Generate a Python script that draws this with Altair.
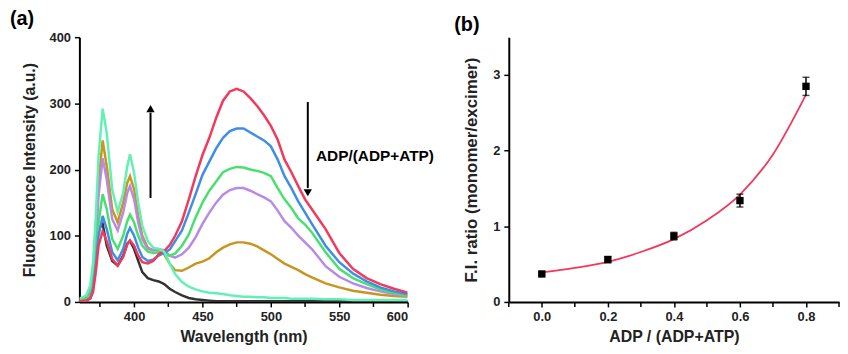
import altair as alt
import pandas as pd

# ---------------- Panel (a): emission spectra ----------------
wavelength = [360, 365, 368, 370, 372, 374, 377, 380, 384, 388, 392, 395, 397, 400, 403, 406, 410, 414, 418,
              422, 426, 430, 435, 440, 445, 450, 455, 460, 465, 470, 475, 480, 485, 490, 495, 500, 505, 510,
              515, 520, 525, 530, 540, 550, 560, 570, 580, 590, 600]

black = [1, 2, 6, 25, 70, 110, 118, 85, 62, 55, 70, 88, 92, 80, 62, 45, 36, 33, 31,
         27, 20, 15, 10, 6, 4, 3, 2, 1, 1, 1, 1, 1, 1, 1, 1, 1, 1, 1,
         1, 1, 1, 1, 1, 1, 1, 1, 1, 1, 1]
red = [1, 2, 5, 15, 45, 85, 107, 92, 65, 55, 68, 87, 93, 85, 70, 60, 58, 62, 72,
       77, 86, 100, 122, 155, 190, 222, 248, 278, 304, 318, 322, 318, 308, 296, 282, 266, 245, 215,
       196, 175, 155, 140, 110, 74, 50, 36, 27, 20, 14]
blue = [1, 2, 6, 20, 55, 100, 130, 110, 75, 63, 80, 103, 112, 100, 82, 68, 62, 64, 70,
        74, 79, 92, 108, 135, 163, 192, 212, 232, 248, 258, 262, 262, 256, 250, 244, 235, 215, 190,
        172, 152, 135, 118, 85, 60, 43, 31, 22, 16, 12]
green = [2, 4, 10, 28, 68, 120, 163, 140, 95, 80, 100, 122, 132, 120, 100, 85, 76, 74, 75,
         72, 70, 73, 85, 102, 128, 150, 168, 182, 196, 201, 204, 203, 200, 198, 195, 190, 172, 155,
         142, 126, 117, 105, 75, 50, 36, 27, 19, 14, 10]
purple = [2, 4, 12, 35, 90, 160, 217, 185, 125, 108, 135, 165, 175, 155, 120, 95, 80, 78, 80,
          78, 70, 67, 72, 82, 98, 118, 135, 150, 162, 169, 172, 172, 168, 163, 158, 152, 138, 122,
          112, 100, 90, 80, 54, 38, 28, 21, 16, 12, 9]
gold = [4, 6, 15, 40, 100, 180, 244, 205, 140, 120, 150, 180, 190, 170, 130, 100, 82, 78, 78,
        72, 58, 48, 47, 52, 58, 61, 66, 75, 82, 87, 90, 90, 88, 84, 78, 72, 65, 58,
        53, 48, 42, 37, 28, 22, 17, 14, 11, 9, 8]
cyan = [5, 10, 25, 60, 130, 220, 292, 255, 170, 136, 165, 205, 223, 195, 150, 115, 92, 82, 80,
        76, 58, 42, 30, 23, 19, 16, 14, 13, 12, 10, 9, 8, 8, 7, 7, 6, 6, 6,
        5, 5, 5, 5, 4, 4, 3, 3, 3, 3, 3]

series_names = ["black", "gold", "purple", "green", "blue", "red", "cyan"]
series_values = [black, gold, purple, green, blue, red, cyan]
series_colors = ["#333333", "#c8961e", "#b88ae6", "#48e06e", "#3f8ee6", "#f23a5c", "#62f0b6"]

major_ticks_a = [400, 450, 500, 550, 600]
minor_ticks_a = [375, 425, 475, 525, 575]

rows = []
for name, vals in zip(series_names, series_values):
    for w, v in zip(wavelength, vals):
        rows.append({"wl": w, "val": v, "series": name})
df_a = pd.DataFrame(rows)

# annotation arrows (data coordinates)
arrow_x = [412, 527]
arrow_from = [157, 302]
arrow_to = [286, 172]
head_y = [292, 165]
head_shape = ["triangle-up", "triangle-down"]
df_shaft = pd.DataFrame({"x": arrow_x, "y": arrow_from, "y2": arrow_to})
df_head = pd.DataFrame({"x": arrow_x, "y": head_y, "shape": head_shape})
df_label = pd.DataFrame({"x": [533], "y": [220], "text": ["ADP/(ADP+ATP)"]})
df_minor_a = pd.DataFrame({"wl": minor_ticks_a})

FONT = "Liberation Sans"
H = 267

xa = alt.X("wl:Q", scale=alt.Scale(domain=[360, 600], nice=False, zero=False),
           axis=alt.Axis(values=major_ticks_a, title="Wavelength (nm)",
                         titleFontSize=16, titlePadding=5))
ya = alt.Y("val:Q", scale=alt.Scale(domain=[0, 400], nice=False),
           axis=alt.Axis(values=[0, 100, 200, 300, 400], title="Fluorescence Intensity (a.u.)"))

lines_a = alt.Chart(df_a).mark_line(strokeWidth=2.5, clip=True).encode(
    x=xa, y=ya,
    color=alt.Color("series:N", scale=alt.Scale(domain=series_names, range=series_colors), legend=None),
    order=alt.Order("wl:Q"),
)
minor_a = alt.Chart(df_minor_a).mark_rule(strokeWidth=1.5, color="black", clip=False).encode(
    x="wl:Q", y=alt.value(H), y2=alt.value(H + 5))
shaft = alt.Chart(df_shaft).mark_rule(strokeWidth=2, color="black").encode(
    x="x:Q", y="y:Q", y2="y2:Q")
heads = alt.Chart(df_head).mark_point(filled=True, size=70, color="black", opacity=1).encode(
    x="x:Q", y="y:Q", shape=alt.Shape("shape:N", scale=None))
label = alt.Chart(df_label).mark_text(align="left", baseline="middle", font=FONT, fontWeight="bold",
                                      fontSize=15.5, color="black").encode(
    x="x:Q", y="y:Q", text="text:N")

panel_a = alt.layer(lines_a, minor_a, shaft, heads, label).properties(
    width=331, height=H,
    title=alt.TitleParams("(a)", anchor="start", frame="group", dx=-70, offset=2,
                          font=FONT, fontSize=20, fontWeight="bold"))

# ---------------- Panel (b): ratio vs ADP fraction ----------------
frac = [0.0, 0.2, 0.4, 0.6, 0.8]
ratio = [0.37, 0.56, 0.87, 1.34, 2.85]
ratio_err = [0.02, 0.04, 0.05, 0.085, 0.12]
fit_x = [0.0, 0.1, 0.2, 0.3, 0.4, 0.5, 0.6, 0.7, 0.8]
fit_y = [0.39, 0.45, 0.53, 0.66, 0.83, 1.08, 1.42, 1.95, 2.74]
major_ticks_b = [0.0, 0.2, 0.4, 0.6, 0.8]
minor_ticks_b = [-0.1, 0.1, 0.3, 0.5, 0.7, 0.9]

df_b = pd.DataFrame({"x": frac, "y": ratio, "err": ratio_err})
df_b["lo"] = df_b["y"] - df_b["err"]
df_b["hi"] = df_b["y"] + df_b["err"]
df_fit = pd.DataFrame({"x": fit_x, "y": fit_y})
df_minor_b = pd.DataFrame({"x": minor_ticks_b})

xb_scale = alt.Scale(domain=[-0.1, 0.9], nice=False, zero=False)
yb_scale = alt.Scale(domain=[0, 3.5], nice=False)
xb_axis = alt.Axis(values=major_ticks_b, format=".1f",
                   title="ADP / (ADP+ATP)", titleFontSize=16, titlePadding=5)
yb_axis = alt.Axis(values=[0, 0.5, 1, 1.5, 2, 2.5, 3, 3.5],
                   labelExpr="datum.value % 1 == 0 && datum.value < 3.4 ? format(datum.value, 'd') : ''",
                   title="F.I. ratio (monomer/excimer)", titleFontSize=17)

fit = alt.Chart(df_fit).mark_line(color="#f2385a", strokeWidth=1.8, interpolate="monotone").encode(
    x=alt.X("x:Q", scale=xb_scale, axis=xb_axis),
    y=alt.Y("y:Q", scale=yb_scale, axis=yb_axis))
minor_b = alt.Chart(df_minor_b).mark_rule(strokeWidth=1.5, color="black", clip=False).encode(
    x="x:Q", y=alt.value(H), y2=alt.value(H + 5))
ebar = alt.Chart(df_b).mark_rule(color="black", strokeWidth=1.5).encode(
    x="x:Q", y="lo:Q", y2="hi:Q")
cap_lo = alt.Chart(df_b).mark_tick(color="black", orient="horizontal", size=7, thickness=1.5).encode(
    x="x:Q", y="lo:Q")
cap_hi = alt.Chart(df_b).mark_tick(color="black", orient="horizontal", size=7, thickness=1.5).encode(
    x="x:Q", y="hi:Q")
pts = alt.Chart(df_b).mark_point(shape="square", filled=True, size=55, color="black", opacity=1).encode(
    x="x:Q", y="y:Q")

panel_b = alt.layer(fit, minor_b, ebar, cap_lo, cap_hi, pts).properties(
    width=333, height=H,
    title=alt.TitleParams("(b)", anchor="start", frame="group", dx=-55, offset=2,
                          font=FONT, fontSize=20, fontWeight="bold"))

chart = alt.hconcat(panel_a, panel_b, spacing=20).properties(
    padding={"left": 2, "top": 0, "right": 0, "bottom": 0}
).configure_view(stroke=None).configure_axis(
    grid=False, domainColor="black", domainWidth=2, tickColor="black", tickWidth=1.5, tickSize=5,
    labelFont=FONT, labelFontWeight="bold", labelFontSize=13, labelColor="#222222", labelPadding=4,
    titleFont=FONT, titleFontWeight="bold", titleFontSize=16, titleColor="#222222", titlePadding=12,
)

chart.save("out.html", embed_options={"renderer": "svg", "actions": False})
